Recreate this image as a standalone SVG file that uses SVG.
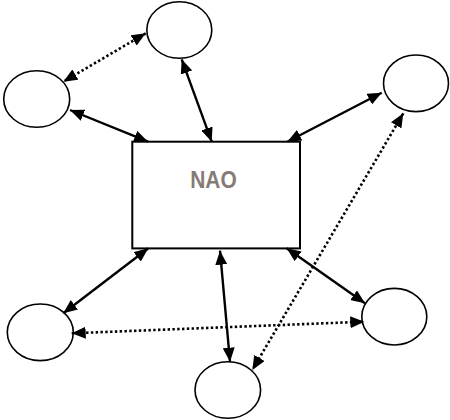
<svg xmlns="http://www.w3.org/2000/svg" width="450" height="420" viewBox="0 0 450 420">
<style>
.node{fill:#fff;stroke:#000;stroke-width:1.6}
.box{fill:#fff;stroke:#000;stroke-width:2}
.solid{stroke:#000;stroke-width:2.4;fill:none}
.dot{stroke:#000;stroke-width:2.6;fill:none;stroke-dasharray:2.4 2.4}
.lbl{font-family:"Liberation Sans",Arial,sans-serif;font-weight:bold;font-size:24px;fill:#857b74}
</style>
<defs>
<marker id="ah" viewBox="0 0 14 12" refX="14" refY="6" markerWidth="14" markerHeight="12" markerUnits="userSpaceOnUse" orient="auto-start-reverse">
<path d="M0,0 L14,6 L0,12 z" fill="#000"/>
</marker>
</defs>
<rect width="450" height="420" fill="#fff"/>
<g id="nao">
<rect class="box" x="132.3" y="141.7" width="167.7" height="106.7"/>
<text class="lbl" x="213.5" y="187.5" text-anchor="middle" textLength="46.5" lengthAdjust="spacingAndGlyphs">NAO</text>
</g>
<g id="n-top"><ellipse class="node" cx="179.3" cy="30" rx="32.5" ry="28.3"/></g>
<g id="n-topleft"><ellipse class="node" cx="36.7" cy="99" rx="33" ry="28.3"/></g>
<g id="n-right"><ellipse class="node" cx="416" cy="83.3" rx="32.5" ry="28.3"/></g>
<g id="n-bottomleft"><ellipse class="node" cx="40.3" cy="332.3" rx="33" ry="28.3"/></g>
<g id="n-bottomright"><ellipse class="node" cx="394.3" cy="316.7" rx="32.5" ry="28.3"/></g>
<g id="n-bottom"><ellipse class="node" cx="227.8" cy="390" rx="32.8" ry="28.3"/></g>
<g id="connectors">
<line class="solid" x1="70" y1="110" x2="148" y2="141.7" marker-start="url(#ah)" marker-end="url(#ah)"/>
<line class="solid" x1="181.7" y1="59.3" x2="211.7" y2="141.7" marker-start="url(#ah)" marker-end="url(#ah)"/>
<line class="solid" x1="381.7" y1="92.7" x2="287.3" y2="141.7" marker-start="url(#ah)" marker-end="url(#ah)"/>
<line class="solid" x1="148.3" y1="248.3" x2="63.3" y2="313.3" marker-start="url(#ah)" marker-end="url(#ah)"/>
<line class="solid" x1="220" y1="250.7" x2="230" y2="361.7" marker-start="url(#ah)" marker-end="url(#ah)"/>
<line class="solid" x1="286.7" y1="248.3" x2="365" y2="303.3" marker-start="url(#ah)" marker-end="url(#ah)"/>
<line class="dot" x1="145.7" y1="33.3" x2="63.3" y2="81.7" marker-start="url(#ah)" marker-end="url(#ah)"/>
<line class="dot" x1="71.7" y1="333.3" x2="364.3" y2="321.7" marker-start="url(#ah)" marker-end="url(#ah)"/>
<line class="dot" x1="403.3" y1="113.3" x2="252.3" y2="370" marker-start="url(#ah)" marker-end="url(#ah)"/>
</g>
</svg>
